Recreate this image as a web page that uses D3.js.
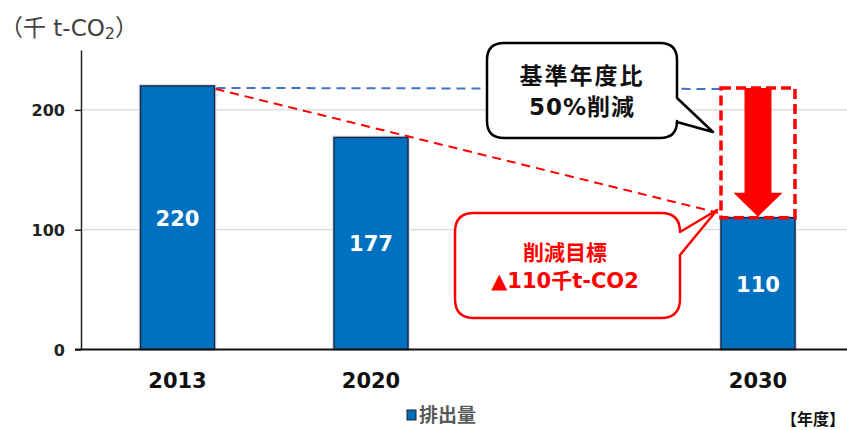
<!DOCTYPE html>
<html><head><meta charset="utf-8">
<script src="https://cdn.jsdelivr.net/npm/d3@7"></script>
<style>
body{margin:0;background:#fff;}
svg{display:block;}
</style></head>
<body>
<svg id="chart" width="847" height="430"></svg>
<script>
const categories = ["2013", "2020", "", "2030"];
const emissions = [220, 177, null, 110];
const yTicks = [0, 100, 200];
const baseValue = 220;
const targetValue = 110;
const legendLabel = "排出量";
const unitLabel = "（千 t-CO";
const xUnitLabel = "【年度】";
const callout1 = ["基準年度比", "50%削減"];
const callout2 = ["削減目標", "▲110千t-CO2"];

(function () {
const LATIN = "'DejaVu Sans','Noto Sans CJK JP',sans-serif";
const CJK = "'Noto Sans CJK JP','DejaVu Sans',sans-serif";
const svg = d3.select("#chart");

const x = d3.scaleBand().domain(categories).range([80.75, 854.75])
  .paddingInner(0.6176).paddingOuter(0.3088);
const y = d3.scaleLinear().domain([0, 250]).range([349.5, 50]);
const axisX = 81;

// gridlines
svg.append("g").selectAll("line").data(yTicks.filter(d => d > 0)).join("line")
  .attr("x1", axisX).attr("x2", 847)
  .attr("y1", d => y(d)).attr("y2", d => y(d))
  .attr("stroke", "#d9d9d9").attr("stroke-width", 1.2);

const data = categories.map((c, i) => ({c, v: emissions[i]})).filter(d => d.v != null);

// bar glow
svg.append("g").selectAll("rect").data(data).join("rect")
  .attr("x", d => x(d.c) - 2).attr("y", d => y(d.v) - 2)
  .attr("width", x.bandwidth() + 4).attr("height", d => y(0) - y(d.v) + 2)
  .attr("fill", "#d6e4f5");
// bars
svg.append("g").selectAll("rect").data(data).join("rect")
  .attr("x", d => x(d.c)).attr("y", d => y(d.v))
  .attr("width", x.bandwidth()).attr("height", d => y(0) - y(d.v))
  .attr("fill", "#0070C0").attr("stroke", "#1b2a44").attr("stroke-width", 1.5);
// bar labels
svg.append("g").selectAll("text").data(data).join("text")
  .attr("x", d => x(d.c) + x.bandwidth() / 2)
  .attr("y", d => (y(d.v) + y(0)) / 2 + 8)
  .attr("text-anchor", "middle").attr("fill", "#fff")
  .attr("font-family", LATIN).attr("font-size", 21).attr("font-weight", "bold")
  .text(d => d.v);

// dashed reference lines
const x0r = x("2013") + x.bandwidth();
const xt = x("2030");
svg.append("line").attr("x1", x0r + 2).attr("y1", y(baseValue) + 2)
  .attr("x2", xt).attr("y2", y(baseValue) + 3)
  .attr("stroke", "#4472C4").attr("stroke-width", 2).attr("stroke-dasharray", "9,6");
svg.append("line").attr("x1", x0r + 1).attr("y1", y(baseValue) + 3)
  .attr("x2", xt - 3).attr("y2", y(targetValue) - 5)
  .attr("stroke", "#FF0000").attr("stroke-width", 2).attr("stroke-dasharray", "9,6");

// reduction box + arrow
const cx = x("2030") + x.bandwidth() / 2;
svg.append("rect").attr("x", xt).attr("y", y(baseValue) + 2)
  .attr("width", x.bandwidth()).attr("height", y(targetValue) - y(baseValue) - 2)
  .attr("fill", "none").attr("stroke", "#FF0000").attr("stroke-width", 3.5)
  .attr("stroke-dasharray", "10,5");
const aTop = y(baseValue) + 2, aTip = y(targetValue) - 1, headTop = aTip - 24;
svg.append("path")
  .attr("d", `M${cx - 13.5},${aTop} L${cx + 13.5},${aTop} L${cx + 13.5},${headTop} L${cx + 24.5},${headTop} L${cx},${aTip} L${cx - 24.5},${headTop} L${cx - 13.5},${headTop} Z`)
  .attr("fill", "#FF0000");

// callouts
function callout(x0, y0, x1, y1, r, t1, tip, t2) {
  return `M${x0 + r},${y0} L${x1 - r},${y0} Q${x1},${y0} ${x1},${y0 + r}` +
    ` L${x1},${t1} L${tip[0]},${tip[1]} L${x1},${t2}` +
    ` L${x1},${y1 - r} Q${x1},${y1} ${x1 - r},${y1} L${x0 + r},${y1} Q${x0},${y1} ${x0},${y1 - r}` +
    ` L${x0},${y0 + r} Q${x0},${y0} ${x0 + r},${y0} Z`;
}
svg.append("path").attr("d", callout(487, 43, 677, 138, 17, 98, [713, 132], 122))
  .attr("fill", "#fff").attr("stroke", "#000").attr("stroke-width", 2.5).attr("stroke-linejoin", "round");
svg.append("text").attr("x", 582).attr("y", 84).attr("text-anchor", "middle")
  .attr("font-family", LATIN).attr("font-weight", "bold").attr("font-size", 23)
  .attr("letter-spacing", 2).attr("fill", "#111").text(callout1[0]);
svg.append("text").attr("x", 582).attr("y", 115).attr("text-anchor", "middle")
  .attr("font-family", LATIN).attr("font-weight", "bold").attr("font-size", 23)
  .attr("letter-spacing", 1).attr("fill", "#111").text(callout1[1]);

svg.append("path").attr("d", callout(455, 213, 680, 318, 19, 232, [717, 210], 255))
  .attr("fill", "#fff").attr("stroke", "#FF0000").attr("stroke-width", 2.5).attr("stroke-linejoin", "round");
svg.append("text").attr("x", 565).attr("y", 260).attr("text-anchor", "middle")
  .attr("font-family", LATIN).attr("font-weight", "bold").attr("font-size", 21)
  .attr("fill", "#FF0000").text(callout2[0]);
svg.append("text").attr("x", 565).attr("y", 288).attr("text-anchor", "middle")
  .attr("font-family", LATIN).attr("font-weight", "bold").attr("font-size", 21)
  .attr("fill", "#FF0000").text(callout2[1]);

// y axis
const gy = svg.append("g").attr("transform", `translate(${axisX},0)`)
  .call(d3.axisLeft(y).tickValues(yTicks).tickSize(6).tickPadding(10).tickSizeOuter(0));
gy.select(".domain").attr("stroke", "#222").attr("stroke-width", 1.5);
gy.selectAll(".tick line").attr("stroke", "#222").attr("stroke-width", 1.5);
gy.selectAll(".tick text").attr("font-family", LATIN).attr("font-size", 16)
  .attr("font-weight", "bold").attr("fill", "#222").attr("dy", "0.36em");

// x axis
const gx = svg.append("g").attr("transform", `translate(0,${y(0)})`)
  .call(d3.axisBottom(x).tickSize(0).tickPadding(24));
gx.select(".domain").remove();
gx.selectAll(".tick text").attr("font-family", LATIN).attr("font-size", 21)
  .attr("font-weight", "bold").attr("fill", "#111");
svg.append("line").attr("x1", axisX - 6).attr("x2", 847).attr("y1", y(0)).attr("y2", y(0))
  .attr("stroke", "#111").attr("stroke-width", 2);

// unit label
const ut = svg.append("text").attr("x", 0).attr("y", 36)
  .attr("font-family", LATIN).attr("font-size", 23).attr("fill", "#404040");
ut.append("tspan").text(unitLabel);
ut.append("tspan").attr("font-size", 16).attr("dy", 3).text("2");
ut.append("tspan").attr("dy", -3).text("）");

// legend
svg.append("rect").attr("x", 407).attr("y", 410).attr("width", 9).attr("height", 10)
  .attr("fill", "#0070C0").attr("stroke", "#222").attr("stroke-width", 1);
svg.append("text").attr("x", 419).attr("y", 422).attr("font-family", CJK)
  .attr("font-size", 19).attr("font-weight", "bold").attr("fill", "#595959").text(legendLabel);

// x unit
svg.append("text").attr("x", 845).attr("y", 425).attr("text-anchor", "end")
  .attr("font-family", CJK).attr("font-size", 16).attr("font-weight", "bold")
  .attr("fill", "#111").text(xUnitLabel);
})();
</script>
</body></html>
